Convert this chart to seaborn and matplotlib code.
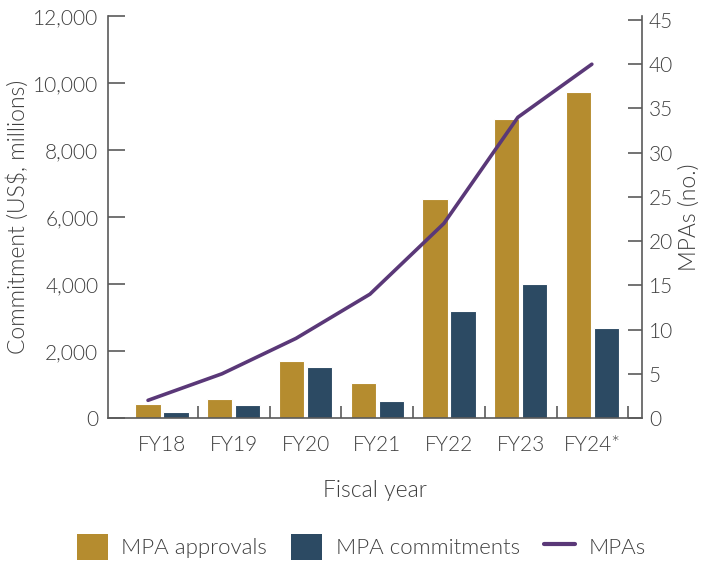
import numpy as np
import pandas as pd
import matplotlib
matplotlib.use("Agg")
import matplotlib.pyplot as plt
import seaborn as sns
from matplotlib.patches import Patch
from matplotlib.lines import Line2D

years = ["FY18", "FY19", "FY20", "FY21", "FY22", "FY23", "FY24*"]
approvals = [420, 570, 1700, 1045, 6540, 8920, 9730]
commitments = [180, 390, 1520, 510, 3200, 4000, 2700]
mpas = [2, 5, 9, 14, 22, 34, 40]

gold = "#B58C2F"
navy = "#2C4A63"
purple = "#5A3878"
txt = "#3f3f3f"
spine = "#5a5a5a"

sns.set_theme(style="white")
plt.rcParams["font.family"] = ["Lato", "DejaVu Sans"]
plt.rcParams["font.weight"] = 300
plt.rcParams["axes.labelweight"] = 300

df = pd.DataFrame({
    "year": years * 2,
    "value": approvals + commitments,
    "series": ["MPA approvals"] * len(years) + ["MPA commitments"] * len(years),
})

fig = plt.figure(figsize=(7.07, 5.61), dpi=100)
ax = fig.add_axes([108 / 707, 1 - 418 / 561, (642 - 108) / 707, (418 - 16) / 561])

sns.barplot(data=df, x="year", y="value", hue="series",
            palette=[gold, navy], saturation=1, width=0.78, gap=0.1, ax=ax,
            edgecolor="white", linewidth=0.8, legend=False)

ax.set_xlim(-0.753, 6.69)
ax.set_ylim(0, 12000)
ax.set_yticks(np.arange(0, 12001, 2000))
ax.set_yticklabels([f"{v:,}" for v in range(0, 12001, 2000)], fontweight=300)
ax.set_xticks(np.arange(len(years)))
ax.set_xticklabels(years, fontweight=300)
ax.set_xticks(np.arange(len(years)) + 0.5, minor=True)
ax.tick_params(axis="x", which="major", length=0, pad=12, labelsize=15, labelcolor=txt)
ax.tick_params(axis="x", which="minor", direction="in", length=9, width=1.2, color=spine, bottom=True)
ax.tick_params(axis="y", direction="in", length=12, width=1.2, color=spine, labelsize=15,
               labelcolor=txt, pad=7, left=True)
ax.set_xlabel("Fiscal year", fontsize=16.5, color=txt, labelpad=18, fontweight=300)
ax.set_ylabel("Commitment (US$, millions)", fontsize=16.5, color=txt, labelpad=3, fontweight=300)

for s in ["left", "bottom"]:
    ax.spines[s].set_color(spine)
    ax.spines[s].set_linewidth(1.2)
ax.spines["top"].set_visible(False)
ax.spines["right"].set_visible(False)

ax2 = ax.twinx()
line_x = np.arange(len(years)) * 1.031 - 0.195
ax2.plot(line_x, mpas, color=purple, linewidth=2.6, solid_capstyle="round")
ax2.set_ylim(0, 45 * 402.4 / 398.4)
ax2.set_yticks(np.arange(0, 46, 5))
ax2.set_yticklabels([str(v) for v in range(0, 46, 5)], fontweight=300)
ax2.tick_params(axis="y", direction="in", length=10, width=1.2, color=spine, labelsize=15,
                labelcolor=txt, pad=5, right=True)
ax2.set_ylabel("MPAs (no.)", fontsize=16.5, color=txt, labelpad=4, fontweight=300)
for s in ["top", "left", "bottom"]:
    ax2.spines[s].set_visible(False)
ax2.spines["right"].set_color(spine)
ax2.spines["right"].set_linewidth(1.2)
ax2.grid(False)
ax.grid(False)

handles = [
    Patch(facecolor=gold, edgecolor="none", label="MPA approvals"),
    Patch(facecolor=navy, edgecolor="none", label="MPA commitments"),
    Line2D([0], [0], color=purple, linewidth=3, solid_capstyle="round", label="MPAs"),
]
fig.legend(handles=handles, loc="center", bbox_to_anchor=(0.511, 1 - 547 / 561), ncol=3,
           frameon=False, prop={"size": 16, "weight": 300}, labelcolor=txt,
           handlelength=1.4, handleheight=1.4, columnspacing=1.1, handletextpad=0.6)

fig.savefig("out.png", dpi=100)
